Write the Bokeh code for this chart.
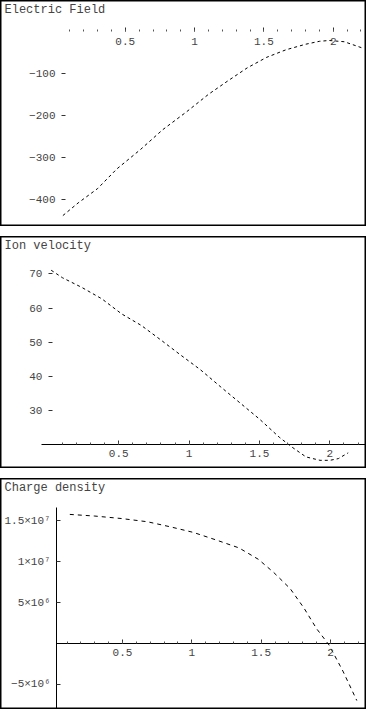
from bokeh.plotting import figure
from bokeh.layouts import column
from bokeh.models import FixedTicker, Label, Range1d
from bokeh.embed import file_html
from bokeh.resources import INLINE

# ---- data ----
x_tick_values = [0.5, 1, 1.5, 2]
x_minor_values = [round(0.1 * i, 1) for i in range(1, 23)]

field_x = [0.05, 0.16, 0.30, 0.44, 0.61, 0.77, 0.94, 1.10, 1.24, 1.38, 1.52, 1.66, 1.80, 1.90, 1.97, 2.08, 2.22]
field_y = [-437, -407, -373, -326, -280, -233, -191, -149, -117, -86, -61, -43, -30, -23, -21, -24, -40]
field_ticks = [-100, -200, -300, -400]

vel_x = [0.02, 0.10, 0.24, 0.38, 0.52, 0.66, 0.80, 0.94, 1.08, 1.22, 1.36, 1.50, 1.64, 1.73, 1.83, 1.93, 2.00, 2.06, 2.13]
vel_y = [71.1, 68.9, 66.0, 62.7, 58.3, 54.9, 50.6, 46.2, 41.9, 37.0, 32.2, 27.4, 22.1, 19.2, 16.3, 15.3, 15.3, 15.8, 17.5]
vel_ticks = [30, 40, 50, 60, 70]

rho_x = [0.12, 0.30, 0.49, 0.68, 0.84, 1.01, 1.17, 1.34, 1.48, 1.59, 1.71, 1.81, 1.90, 1.99, 2.09, 2.19]
rho_y = [1.58e7, 1.56e7, 1.53e7, 1.49e7, 1.43e7, 1.36e7, 1.27e7, 1.17e7, 1.03e7, 0.87e7, 0.67e7, 0.43e7, 0.18e7, -0.02e7, -0.34e7, -0.70e7]
rho_ticks = [-5e6, 5e6, 1e7, 1.5e7]
rho_labels = ["\u22125\u00d710\u2076", "5\u00d710\u2076", "1\u00d710\u2077", "1.5\u00d710\u2077"]

titles = ["Electric Field", "Ion velocity", "Charge density"]

FONT = "Liberation Mono"
TXT = "#444444"
W = 366


def make_panel(h, xr, yr, xs, ys, yticks, x_at, y_at, title, show_xline, show_yline,
               xbounds="auto", ybounds="auto", ylabels=None, dash="3 3"):
    p = figure(width=W, height=h, output_backend="svg", toolbar_location=None,
               x_range=Range1d(*xr), y_range=Range1d(*yr), min_border=0)
    p.grid.visible = False
    p.outline_line_color = "black"
    p.outline_line_width = 2
    p.background_fill_color = "white"
    p.border_fill_color = "white"

    xa = p.xaxis[0]
    xa.fixed_location = x_at
    xa.bounds = xbounds
    xa.ticker = FixedTicker(ticks=x_tick_values, minor_ticks=x_minor_values)
    xa.major_tick_in = 4
    xa.major_tick_out = 0
    xa.minor_tick_in = 2
    xa.minor_tick_out = 0
    xa.major_label_standoff = 6
    xa.major_label_text_font = FONT
    xa.major_label_text_font_size = "11px"
    xa.major_label_text_color = TXT
    xa.axis_line_color = "black" if show_xline else None
    xa.major_tick_line_color = "#333333"
    xa.minor_tick_line_color = "#555555"

    ya = p.yaxis[0]
    ya.fixed_location = y_at
    ya.bounds = ybounds
    ya.ticker = FixedTicker(ticks=yticks, minor_ticks=[])
    ya.major_tick_in = 4
    ya.major_tick_out = 0
    ya.major_label_standoff = 6
    ya.major_label_text_font = FONT
    ya.major_label_text_font_size = "11px"
    ya.major_label_text_color = TXT
    ya.axis_line_color = "black" if show_yline else None
    ya.major_tick_line_color = "#333333"
    if ylabels is not None:
        ya.major_label_overrides = {float(t): s for t, s in zip(yticks, ylabels)}

    p.line(xs, ys, line_color="black", line_width=1, line_dash=dash)

    p.add_layout(Label(x=4, y=h - 16, x_units="screen", y_units="screen", text=title,
                       text_font=FONT, text_font_size="12px", text_color=TXT))
    return p


p1 = make_panel(226, (-0.40, 2.24), (-463, 74), field_x, field_y, field_ticks,
                0, 0.04, titles[0], False, False)
p2 = make_panel(232, (-0.34, 2.26), (12.9, 81), vel_x, vel_y, vel_ticks,
                20, 0.0, titles[1], True, False, xbounds=(-0.05, 2.26))
p3 = make_panel(231, (-0.38, 2.26), (-0.81e7, 2.02e7), rho_x, rho_y, rho_ticks,
                0, 0.025, titles[2], True, True, xbounds=(0.025, 2.26),
                ybounds=(-0.81e7, 1.67e7), ylabels=rho_labels, dash="4 4")

layout = column(p1, p2, p3, spacing=10)
open("out.html", "w").write(file_html(layout, INLINE))
